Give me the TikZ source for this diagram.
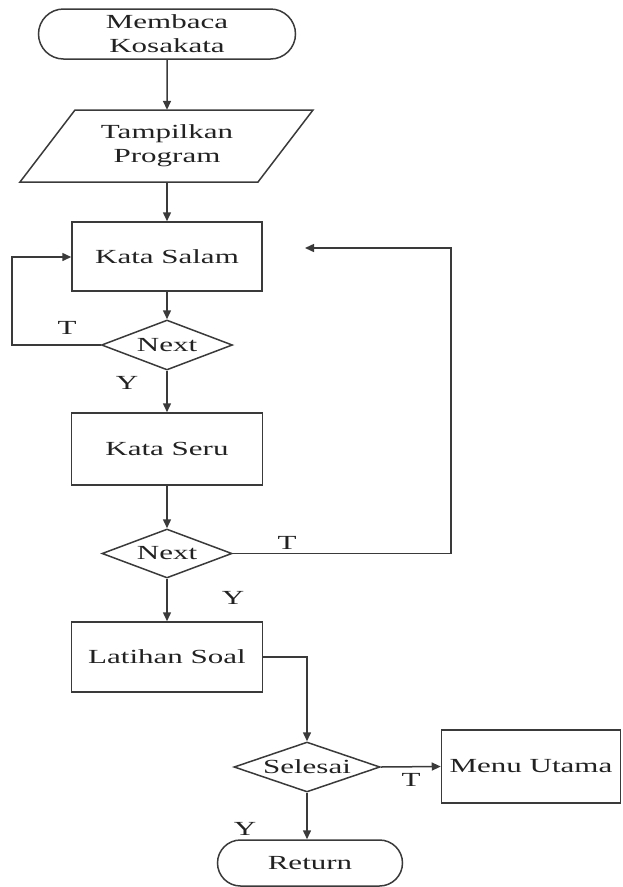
\documentclass[tikz,border=0pt]{standalone}
\usepackage{fontspec}
\setmainfont{Liberation Serif}[FakeStretch=1.55]
\usetikzlibrary{shapes.geometric,shapes.misc,arrows.meta}

\definecolor{ink}{HTML}{3A3A3A}
\definecolor{txt}{HTML}{222222}

\tikzset{
  base/.style={draw=ink, line width=1.5pt, inner sep=0pt, align=center,
    text=txt, font=\fontsize{20}{24}\selectfont},
  term/.style={base, rounded rectangle},
  proc/.style={base, rectangle},
  dec/.style={base, diamond, aspect=2.6},
  ghost/.style={rectangle, inner sep=0pt, align=center, text=txt,
    font=\fontsize{20}{24}\selectfont},
  arr/.style={draw=ink, line width=1.5pt, -{Triangle[length=9pt,width=8pt]}},
  tag/.style={text=txt, font=\fontsize{20}{24}\selectfont, inner sep=0pt}
}

\begin{document}
\begin{tikzpicture}[x=1pt,y=-1pt]
  \useasboundingbox (0,0) rectangle (622,887);

  % start terminal
  \node[term, minimum width=257pt, minimum height=50pt] (start) at (167,34)
    {Membaca\\Kosakata};

  % input / output parallelogram
  \draw[draw=ink, line width=1.5pt] (75,110) -- (313,110) -- (258,182) -- (20,182) -- cycle;
  \node[ghost, minimum width=180pt, minimum height=72pt] (prog) at (167,146)
    {Tampilkan\\Program};

  % main column
  \node[proc, minimum width=190pt, minimum height=69pt] (salam) at (167,256.5) {Kata Salam};
  \node[dec, minimum width=131pt, minimum height=50pt, label={[tag]center:Next}] (next1) at (167,345) {};
  \node[proc, minimum width=191pt, minimum height=72pt] (seru) at (167,449) {Kata Seru};
  \node[dec, minimum width=130pt, minimum height=49pt, label={[tag]center:Next}] (next2) at (167,553.5) {};
  \node[proc, minimum width=191pt, minimum height=70pt] (latihan) at (167,657) {Latihan Soal};
  \node[dec, minimum width=146pt, minimum height=50pt, label={[tag]center:Selesai}] (selesai) at (307,767) {};
  \node[proc, minimum width=179pt, minimum height=73pt] (menu) at (531,766.5) {Menu Utama};
  \node[term, minimum width=185pt, minimum height=46pt] (ret) at (310,863) {Return};

  % helper points for the loop-backs
  \coordinate (loopL) at (12,0);
  \coordinate (loopR) at (451,0);
  \coordinate (backin) at (305,248);

  % connectors
  \draw[arr] (start) -- (prog);
  \draw[arr] (prog) -- (salam);
  \draw[arr] (salam) -- (next1);
  \draw[arr] (next1.west) -- (next1.west -| loopL) |- ([yshift=-0.5pt]salam.west);
  \draw[arr] (next1) -- (seru);
  \draw[arr] (seru) -- (next2);
  \draw[arr] (next2.east) -- (next2.east -| loopR) |- (backin);
  \draw[arr] (next2) -- (latihan);
  \draw[arr] (latihan.east) -| (selesai.north);
  \draw[arr] (selesai.east) -- (menu.west);
  \draw[arr] (selesai.south) -- (selesai.south |- ret.north);

  % branch labels
  \node[tag] (t1) at (67,328) {T};
  \node[tag] (y1) at (127,383) {Y};
  \node[tag] (t2) at (287,543) {T};
  \node[tag] (y2) at (233,598) {Y};
  \node[tag] (t3) at (411,780) {T};
  \node[tag] (y3) at (245,829) {Y};
\end{tikzpicture}
\end{document}
